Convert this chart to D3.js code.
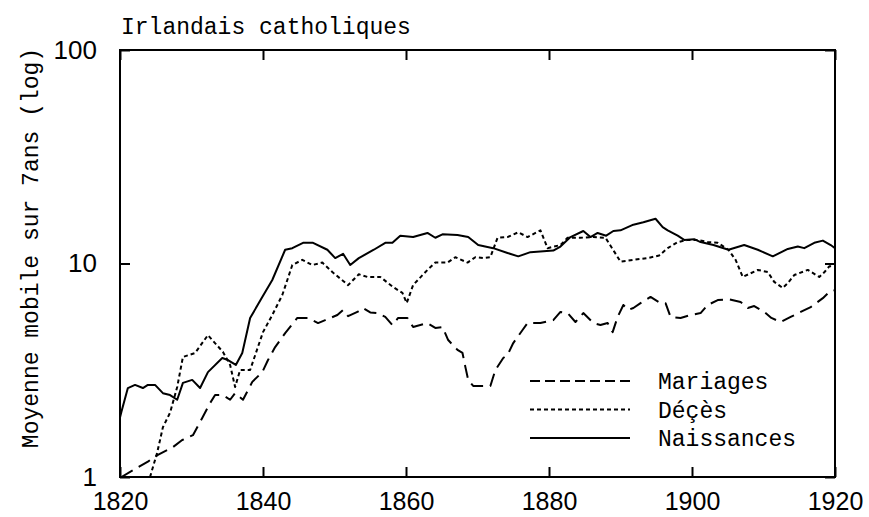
<!DOCTYPE html>
<html><head><meta charset="utf-8">
<script src="https://cdn.jsdelivr.net/npm/d3@7"></script>
<style>
html,body{margin:0;padding:0;background:#fff;}
svg{display:block;}
</style></head>
<body>
<svg id="chart" width="869" height="517"></svg>
<script>
const title = "Irlandais catholiques";
const yLabel = "Moyenne mobile sur 7ans (log)";
const xTicks = [1820, 1840, 1860, 1880, 1900, 1920];
const yTicks = [1, 10, 100];
const seriesNames = ["Mariages", "Déçès", "Naissances"];

const mariagesYears = [1820.2,1822.1,1823.9,1825.3,1827.4,1828.7,1830.2,1831.5,1832.6,1833.3,1834.4,1835.4,1836.1,1837.2,1838.5,1839.9,1840.7,1841.7,1843.1,1844.8,1846.3,1847.7,1848.7,1850.4,1851.2,1851.9,1853.2,1854.0,1855.0,1856.0,1857.1,1858.1,1858.9,1860.2,1861.0,1863.0,1864.1,1865.1,1865.9,1867.2,1867.9,1868.3,1868.7,1869.4,1871.8,1872.5,1873.6,1874.2,1875.0,1876.3,1877.0,1878.8,1880.6,1881.6,1882.6,1883.7,1884.8,1886.2,1887.2,1888.2,1888.9,1889.6,1890.4,1891.1,1891.8,1892.8,1894.2,1895.6,1896.3,1897.0,1898.4,1899.8,1901.2,1902.2,1903.6,1905.1,1906.8,1907.8,1908.7,1910.1,1911.1,1912.4,1913.8,1915.2,1916.6,1918.3,1919.2,1920.0];
const mariagesValues = [1.0,1.09,1.18,1.27,1.38,1.49,1.57,1.89,2.22,2.42,2.42,2.30,2.47,2.30,2.79,3.10,3.53,4.06,4.72,5.56,5.56,5.26,5.43,5.74,6.06,5.67,5.93,6.19,5.9,5.86,5.62,5.15,5.56,5.56,5.04,5.26,4.99,5.04,4.38,3.94,3.81,3.28,2.85,2.67,2.67,3.17,3.61,3.73,4.24,4.88,5.26,5.26,5.43,5.93,5.86,5.32,5.86,5.26,5.15,5.26,4.77,5.62,6.39,6.06,6.19,6.52,6.97,6.52,6.52,5.62,5.56,5.74,5.86,6.39,6.74,6.8,6.6,6.19,6.32,5.93,5.56,5.32,5.62,5.93,6.25,6.88,7.35,7.5];

const decesYears = [1824.2,1825.2,1826.0,1827.0,1828.0,1828.8,1830.5,1832.3,1834.4,1835.4,1836.1,1836.8,1838.2,1840.0,1841.3,1842.7,1844.1,1845.5,1846.9,1848.3,1849.7,1851.9,1853.4,1854.6,1856.4,1858.2,1859.5,1860.1,1861.0,1863.0,1864.1,1865.8,1866.9,1868.6,1869.7,1870.8,1871.8,1872.8,1874.2,1875.7,1877.0,1878.8,1879.8,1881.6,1882.6,1884.4,1886.2,1887.9,1889.1,1890.0,1891.8,1893.8,1895.4,1896.6,1898.0,1899.4,1900.8,1902.2,1903.6,1905.1,1906.1,1907.1,1908.2,1909.2,1910.6,1911.5,1912.7,1913.4,1914.3,1916.2,1917.8,1918.5,1919.2,1920.0];
const decesValues = [1.0,1.30,1.71,2.0,2.64,3.65,3.81,4.62,3.85,3.35,2.64,3.17,3.17,4.77,5.74,7.12,9.84,10.4,9.84,10.1,9.12,7.92,8.9,8.65,8.65,7.76,7.28,6.53,7.93,9.33,10.1,10.1,10.7,10.1,10.7,10.6,10.7,13.2,13.3,14.0,13.3,14.3,11.8,12.2,13.2,13.2,13.3,13.2,11.4,10.2,10.4,10.6,10.9,11.8,12.6,12.9,12.9,12.6,12.5,11.6,10.4,8.65,9.0,9.33,9.12,8.2,7.68,8.1,8.83,9.33,8.65,9.1,9.7,9.7];

const naissancesYears = [1820.0,1820.2,1821.1,1822.1,1823.2,1823.9,1824.9,1826.0,1827.0,1828.0,1828.8,1830.1,1831.2,1832.3,1834.3,1835.1,1836.2,1837.1,1838.2,1839.9,1841.3,1843.1,1844.1,1845.6,1847.0,1849.0,1850.1,1851.2,1852.2,1853.4,1855.5,1857.1,1858.1,1859.2,1861.0,1863.0,1864.1,1865.1,1867.2,1868.7,1870.1,1872.2,1874.2,1875.7,1877.4,1880.6,1881.6,1883.0,1884.8,1885.8,1886.8,1888.0,1889.0,1890.0,1891.8,1893.2,1894.9,1895.9,1896.6,1898.0,1898.9,1900.3,1901.2,1903.0,1905.1,1907.3,1909.2,1911.3,1913.4,1914.8,1915.7,1917.1,1918.3,1919.4,1920.0];
const naissancesValues = [1.9,2.02,2.61,2.70,2.61,2.70,2.70,2.47,2.42,2.30,2.76,2.85,2.61,3.10,3.61,3.53,3.35,3.81,5.55,6.97,8.37,11.6,11.8,12.5,12.5,11.6,10.6,11.1,9.84,10.6,11.6,12.5,12.5,13.5,13.3,13.9,13.2,13.7,13.6,13.3,12.2,11.8,11.2,10.8,11.3,11.5,12.0,13.3,14.2,13.3,13.9,13.5,14.2,14.3,15.2,15.6,16.2,14.8,14.3,13.5,12.9,13.0,12.6,12.2,11.6,12.2,11.6,10.8,11.7,12.0,11.8,12.5,12.8,12.2,11.8];

const svg = d3.select("#chart");
const L = 120, R = 835, T = 50, B = 477;
const x = d3.scaleLinear().domain([1820, 1920]).range([L, R]);
const y = d3.scaleLog().domain([1, 100]).range([B, T]);

const mono = "'Liberation Mono', 'DejaVu Sans Mono', monospace";
const sans = "'Liberation Sans', Arial, sans-serif";

svg.append("defs").append("clipPath").attr("id","clip")
  .append("rect").attr("x", L).attr("y", T).attr("width", R-L).attr("height", B-T);

// frame
svg.append("rect").attr("x", L).attr("y", T).attr("width", R-L).attr("height", B-T)
  .attr("fill","none").attr("stroke","#000").attr("stroke-width",2);

// axes (inward ticks)
const gx = svg.append("g").attr("transform", `translate(0,${B})`)
  .call(d3.axisBottom(x).tickValues(xTicks).tickSizeInner(-10).tickSizeOuter(0).tickPadding(15).tickFormat(d3.format("d")));
const gxt = svg.append("g").attr("transform", `translate(0,${T})`)
  .call(d3.axisTop(x).tickValues(xTicks).tickSizeInner(-10).tickSizeOuter(0).tickFormat(""));
const gy = svg.append("g").attr("transform", `translate(${L},0)`)
  .call(d3.axisLeft(y).tickValues(yTicks).tickSizeInner(-10).tickSizeOuter(0).tickPadding(23).tickFormat(d3.format("d")));
const gyr = svg.append("g").attr("transform", `translate(${R},0)`)
  .call(d3.axisRight(y).tickValues(yTicks).tickSizeInner(-10).tickSizeOuter(0).tickFormat(""));
[gx,gxt,gy,gyr].forEach(g => {
  g.select(".domain").remove();
  g.selectAll(".tick line").attr("stroke","#000").attr("stroke-width",2);
  g.selectAll("text").attr("fill","#000").attr("font-family", sans).attr("font-size", 26);
});
gx.selectAll("text").attr("font-size", 25).attr("dy","0.71em");

// series
const line = d3.line().x(d => x(d[0])).y(d => y(d[1]));
const zip = (a,b) => a.map((v,i)=>[v,b[i]]);
const series = [
  {name: seriesNames[0], data: zip(mariagesYears, mariagesValues), dash: "13,7", w: 2},
  {name: seriesNames[1], data: zip(decesYears, decesValues), dash: "4,3", w: 2},
  {name: seriesNames[2], data: zip(naissancesYears, naissancesValues), dash: null, w: 2}
];
const plot = svg.append("g").attr("clip-path","url(#clip)");
series.forEach(s => {
  plot.append("path").datum(s.data).attr("d", line)
    .attr("fill","none").attr("stroke","#000").attr("stroke-width", s.w)
    .attr("stroke-linejoin","round")
    .attr("stroke-dasharray", s.dash);
});

// legend
const lg = svg.append("g");
series.forEach((s,i) => {
  const yy = 381 + i*28.5;
  lg.append("line").attr("x1",530).attr("x2",630).attr("y1",yy).attr("y2",yy)
    .attr("stroke","#000").attr("stroke-width", 2).attr("stroke-dasharray", s.dash ? (i===0?"10,5":"4,3") : null);
  lg.append("text").attr("x",658).attr("y",yy).attr("dy","0.35em")
    .attr("font-family", mono).attr("font-size", 23).attr("fill","#000").text(s.name);
});

// title
svg.append("text").attr("x",121).attr("y",34)
  .attr("font-family", mono).attr("font-size", 23).attr("fill","#000").text(title);

// y label
svg.append("text").attr("transform","translate(30,248) rotate(-90)")
  .attr("text-anchor","middle").attr("dy","0.35em")
  .attr("font-family", mono).attr("font-size", 23).attr("fill","#000").text(yLabel);
</script>
</body></html>
